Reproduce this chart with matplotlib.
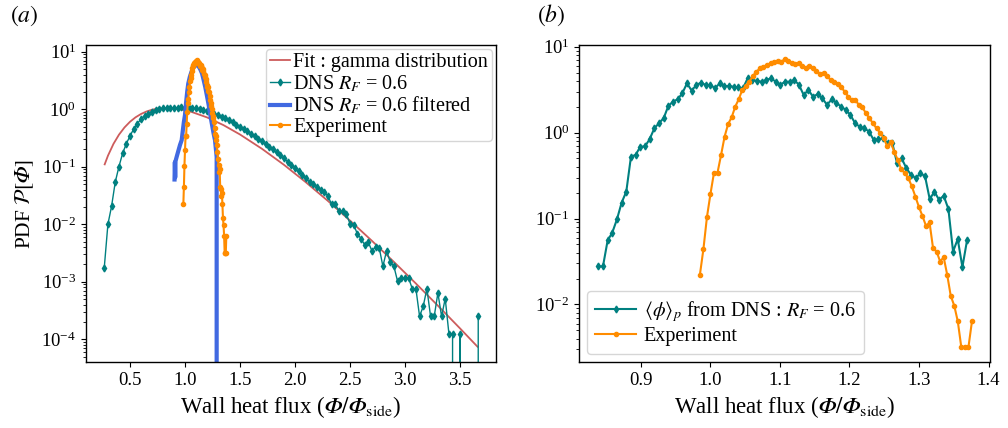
import numpy as np
import matplotlib
matplotlib.use("Agg")
import matplotlib.pyplot as plt

plt.rcParams['font.family'] = 'serif'
plt.rcParams['font.serif'] = ['Liberation Serif', 'DejaVu Serif']
plt.rcParams['mathtext.fontset'] = 'stix'

# ---- data ----
# gamma distribution fit (panel a)
fit_x = [0.27, 0.30, 0.35, 0.40, 0.45, 0.50, 0.55, 0.60, 0.65, 0.70, 0.75, 0.85, 0.95, 1.05,
         1.20, 1.35, 1.50, 1.70, 1.90, 2.10, 2.30, 2.50, 2.70, 2.90, 3.10, 3.30, 3.50, 3.66]
fit_y = [0.110, 0.156, 0.250, 0.361, 0.482, 0.605, 0.722, 0.826, 0.913, 0.980, 1.025, 1.052,
         1.007, 0.911, 0.722, 0.529, 0.364, 0.205, 0.108, 0.0535, 0.0254, 0.0116, 0.00514,
         0.00221, 0.00093, 0.000383, 0.000155, 7.41e-5]

# DNS R_F = 0.6 (panel a), bins of ~1/30 from 0.266 to 3.666
dns_x = np.linspace(0.266, 3.666, 103)
dns_y = [0.00174, 0.0100, 0.0206, 0.054, 0.100, 0.17, 0.25, 0.34, 0.45, 0.56, 0.67, 0.76,
         0.84, 0.91, 0.96, 1.00, 1.03, 1.05, 1.06, 1.07, 1.07, 1.08, 1.07,
         1.06, 1.05, 1.03, 1.01, 0.97, 0.93, 0.89, 0.84, 0.79, 0.74, 0.69, 0.64, 0.59, 0.54,
         0.50, 0.45, 0.41, 0.375, 0.34, 0.305, 0.275, 0.25, 0.222, 0.20, 0.179, 0.158, 0.14,
         0.123, 0.109, 0.095, 0.083, 0.072, 0.063,
         0.0544, 0.0497, 0.0446, 0.0401, 0.0365, 0.0311, 0.0223, 0.0223, 0.0171, 0.0168,
         0.0153, 0.0103, 0.00987, 0.00689, 0.00564, 0.00443, 0.00493, 0.00344, 0.00403,
         0.00388, 0.00186, 0.00344, 0.00221, 0.00186, 0.00102, 0.00117, 0.00117, 0.00117,
         0.00076, 0.00076, 0.000251, 0.000375, 0.00076, 0.000251, 0.000251, 0.00064,
         0.000251, 0.00051, 0.000126, 0.000126, 0, 0.000126, 0, 0, 0, 0, 0.000251]

# DNS R_F = 0.6 filtered (panel a)
filt_x = [0.905, 0.908, 0.911, 0.914, 0.925, 0.94, 0.955, 0.97, 0.98, 0.99, 1.00, 1.01, 1.02,
          1.03, 1.045, 1.06, 1.075, 1.09, 1.105, 1.115, 1.125, 1.14, 1.155, 1.17, 1.185, 1.20,
          1.215, 1.23, 1.245, 1.26, 1.273, 1.288, 1.293, 1.30, 1.31]
filt_y = [0.06, 0.12, 0.065, 0.125, 0.15, 0.19, 0.24, 0.29, 0.42, 0.6, 0.79, 1.3, 2.0, 2.8,
          3.7, 4.5, 5.2, 5.7, 5.9, 5.8, 5.5, 4.9, 4.2, 3.2, 2.4, 1.7, 1.2, 0.8, 0.55, 0.38,
          0.29, 0.148, 0, 0, 0]

# Experiment (both panels)
exp_x = np.linspace(0.985, 1.376, 78)
exp_y = [0.0221, 0.044, 0.104, 0.194, 0.343, 0.343, 0.55, 0.90, 1.26, 1.51,
         2.0, 2.45, 3.14, 3.49, 3.92, 4.56, 5.12, 5.61, 5.85, 6.13,
         6.41, 6.58, 6.87, 6.7, 7.13, 6.8, 6.5, 6.3, 6.4, 5.97,
         5.7, 5.97, 5.6, 5.26, 4.81, 5.0, 4.56, 4.1, 3.9, 3.68,
         3.37, 3.0, 2.62, 2.4, 2.4, 2.1, 1.97, 1.68, 1.47, 1.28,
         1.12, 1.0, 0.86, 0.70, 0.77, 0.60, 0.48, 0.375, 0.337, 0.295,
         0.236, 0.18, 0.136, 0.107, 0.082, 0.090, 0.045, 0.0413, 0.0316, 0.0355,
         0.0221, 0.0126, 0.00966, 0.00634, 0.00316, 0.00316, 0.00316, 0.00634]

# <phi>_p from DNS (panel b)
phi_x = np.linspace(0.839, 1.369, 80)
phi_y = [0.0277, 0.0277, 0.0555, 0.0687, 0.098, 0.153, 0.206, 0.526, 0.55, 0.687,
         0.69, 0.84, 1.12, 1.29, 1.47, 2.04, 2.29, 2.44, 2.87, 3.75,
         3.08, 3.59, 3.81, 3.59, 3.59, 3.28, 3.75, 3.49, 3.49, 3.42,
         3.37, 3.28, 4.29, 4.10, 4.00, 3.92, 4.10, 4.29, 3.92, 3.59,
         3.92, 3.92, 4.10, 3.59, 2.74, 3.14, 2.62, 2.80, 2.51, 2.10,
         2.44, 2.23, 2.00, 1.84, 1.61, 1.29, 1.17, 1.12, 1.03, 0.82,
         0.84, 0.86, 0.75, 0.75, 0.44, 0.50, 0.385, 0.322, 0.295, 0.337,
         0.31, 0.168, 0.206, 0.165, 0.184, 0.129, 0.0413, 0.0576, 0.0272, 0.056]

teal = '#008080'
orange = 'darkorange'
PHI = '\U0001D6F7'  # italic capital phi
xlab = 'Wall heat flux ($' + PHI + '/' + PHI + r'_{\mathrm{side}}$)'

fig = plt.figure(figsize=(10.08, 4.28), dpi=100)
ax1 = fig.add_axes([0.0853, 0.1542, 0.4067, 0.7407])
ax2 = fig.add_axes([0.5747, 0.1542, 0.4074, 0.7407])

# panel (a)
ax1.plot(fit_x, fit_y, color='indianred', lw=1.3, label='Fit : gamma distribution')
ax1.plot(dns_x, dns_y, color=teal, lw=1.0, marker='d', ms=3.5, label=r'DNS $R_F$ = 0.6')
ax1.plot(filt_x, filt_y, color='royalblue', lw=3, label=r'DNS $R_F$ = 0.6 filtered')
ax1.plot(exp_x, exp_y, color=orange, lw=1.5, marker='o', ms=3, label='Experiment')
ax1.set_yscale('log', nonpositive='clip')
ax1.set_xlim(0.1, 3.827)
ax1.set_ylim(10**-4.395, 10**1.117)
ax1.set_xticks([0.5, 1.0, 1.5, 2.0, 2.5, 3.0, 3.5])
ax1.set_xlabel(xlab, fontsize=16.5)
ax1.set_ylabel(r'PDF $\mathcal{P}[' + PHI + ']$', fontsize=15.5)
ax1.legend(loc='upper right', fontsize=14.5, handlelength=1.0, handletextpad=0.15,
           borderaxespad=0.2, labelspacing=0.05, borderpad=0.2)

# panel (b)
ax2.plot(phi_x, phi_y, color=teal, lw=1.5, marker='d', ms=3.5,
         label=r'$\langle\phi\rangle_p$ from DNS : $R_F$ = 0.6')
ax2.plot(exp_x, exp_y, color=orange, lw=1.5, marker='o', ms=3, label='Experiment')
ax2.set_yscale('log', nonpositive='clip')
ax2.set_xlim(0.8117, 1.4019)
ax2.set_ylim(10**-2.67, 10**1.02)
ax2.set_xlabel(xlab, fontsize=16.5)
ax2.legend(loc='lower left', fontsize=14.5, handletextpad=0.4, labelspacing=0.15,
           borderaxespad=0.4)

for ax in (ax1, ax2):
    ax.tick_params(labelsize=13.5)
    for s in ax.spines.values():
        s.set_linewidth(1.0)

fig.text(0.010, 0.948, r'$(a)$', fontsize=17)
fig.text(0.533, 0.948, r'$(b)$', fontsize=17)

fig.savefig('out.png', dpi=100)
